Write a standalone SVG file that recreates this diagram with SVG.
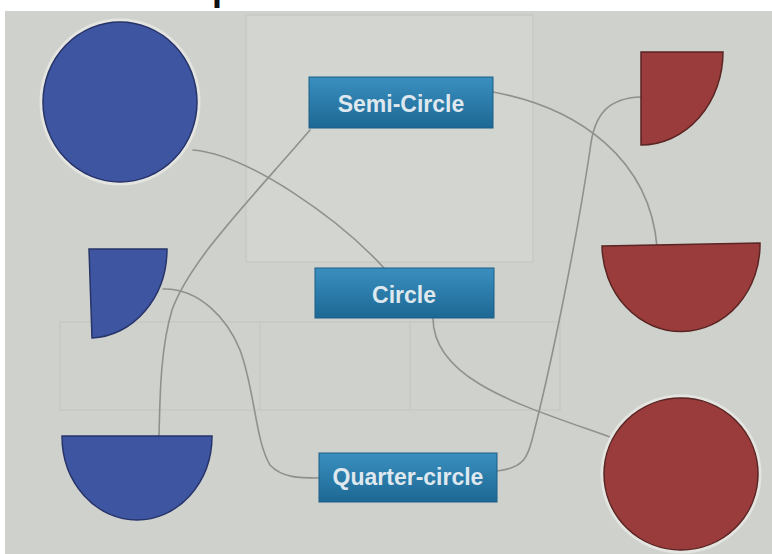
<svg xmlns="http://www.w3.org/2000/svg" width="772" height="554" viewBox="0 0 772 554">
  <defs>
    <linearGradient id="boxg" x1="0" y1="0" x2="0" y2="1">
      <stop offset="0" stop-color="#3a8fbf"/>
      <stop offset="1" stop-color="#1d6894"/>
    </linearGradient>
    <style>
      .bg { fill: #cfd1cd; }
      .faint { fill: none; stroke: #c4c6c2; stroke-width: 1.2; }
      .blue { fill: #3e55a2; stroke: #27346a; stroke-width: 1.5; }
      .red { fill: #9a3b3c; stroke: #5a2522; stroke-width: 1.5; }
      .halo { fill: none; stroke: #e4e5e0; stroke-width: 3; }
      .box { fill: url(#boxg); stroke: #1b5f88; stroke-width: 1; }
      .lbl { font-family: "Liberation Sans", Arial, sans-serif; font-weight: bold; font-size: 23px; fill: #dfe8ee; text-anchor: middle; }
      .conn path { fill: none; stroke: #8f918d; stroke-width: 1.6; stroke-linecap: round; }
    </style>
  </defs>

  <rect x="0" y="0" width="772" height="554" fill="#ffffff"/>
  <rect class="bg" x="5" y="11" width="767" height="543"/>
  <!-- faint print-through from page -->
  <rect x="246" y="15" width="287" height="247" fill="#d3d5d1" stroke="#c5c7c3" stroke-width="1.2"/>
  <rect class="faint" x="60" y="322" width="500" height="88"/>
  <line class="faint" x1="260" y1="322" x2="260" y2="410"/>
  <line class="faint" x1="410" y1="322" x2="410" y2="410"/>

  <text x="212" y="0" font-family="Liberation Sans, Arial, sans-serif" font-weight="bold" font-size="36" fill="#111111">p</text>

  <g class="conn" id="connectors">
    <path d="M193,150 C250,155 340,220 384,268"/>
    <path d="M310,130 C250,200 190,260 172,310 C160,350 160,400 159,436"/>
    <path d="M163,289 C200,288 228,320 240,350 C255,390 255,440 270,465 C282,478 300,478 319,478"/>
    <path d="M497,471 C525,468 528,455 532,440 C550,370 575,250 590,150 C594,112 610,98 641,97"/>
    <path d="M493,92 C580,108 650,160 657,247"/>
    <path d="M433,318 C433,380 520,405 610,437"/>
  </g>

  <g id="blue-circle">
    <ellipse class="halo" cx="120" cy="102" rx="79" ry="82"/>
    <ellipse class="blue" cx="120" cy="102" rx="77" ry="80"/>
  </g>
  <g id="blue-quarter">
    <path class="blue" d="M89,249 L167,249 A78,89 0 0 1 92,338 Z"/>
  </g>
  <g id="blue-semi">
    <path class="blue" d="M62,436 L212,436 A75,84 0 0 1 62,436 Z"/>
  </g>

  <g id="red-quarter">
    <path class="red" d="M641,52 L723,52 A82,93 0 0 1 641,145 Z"/>
  </g>
  <g id="red-semi">
    <path class="red" d="M602,246 L760,243 A79,87 0 0 1 602,246 Z"/>
  </g>
  <g id="red-circle">
    <ellipse class="halo" cx="681" cy="474" rx="79" ry="78"/>
    <ellipse class="red" cx="681" cy="474" rx="77" ry="76"/>
  </g>

  <g id="semi-circle-label">
    <rect class="box" x="309" y="77" width="184" height="51"/>
    <text class="lbl" x="401" y="112">Semi-Circle</text>
  </g>
  <g id="circle-label">
    <rect class="box" x="315" y="268" width="179" height="50"/>
    <text class="lbl" x="404" y="303">Circle</text>
  </g>
  <g id="quarter-circle-label">
    <rect class="box" x="319" y="453" width="178" height="49"/>
    <text class="lbl" x="408" y="485">Quarter-circle</text>
  </g>
</svg>
